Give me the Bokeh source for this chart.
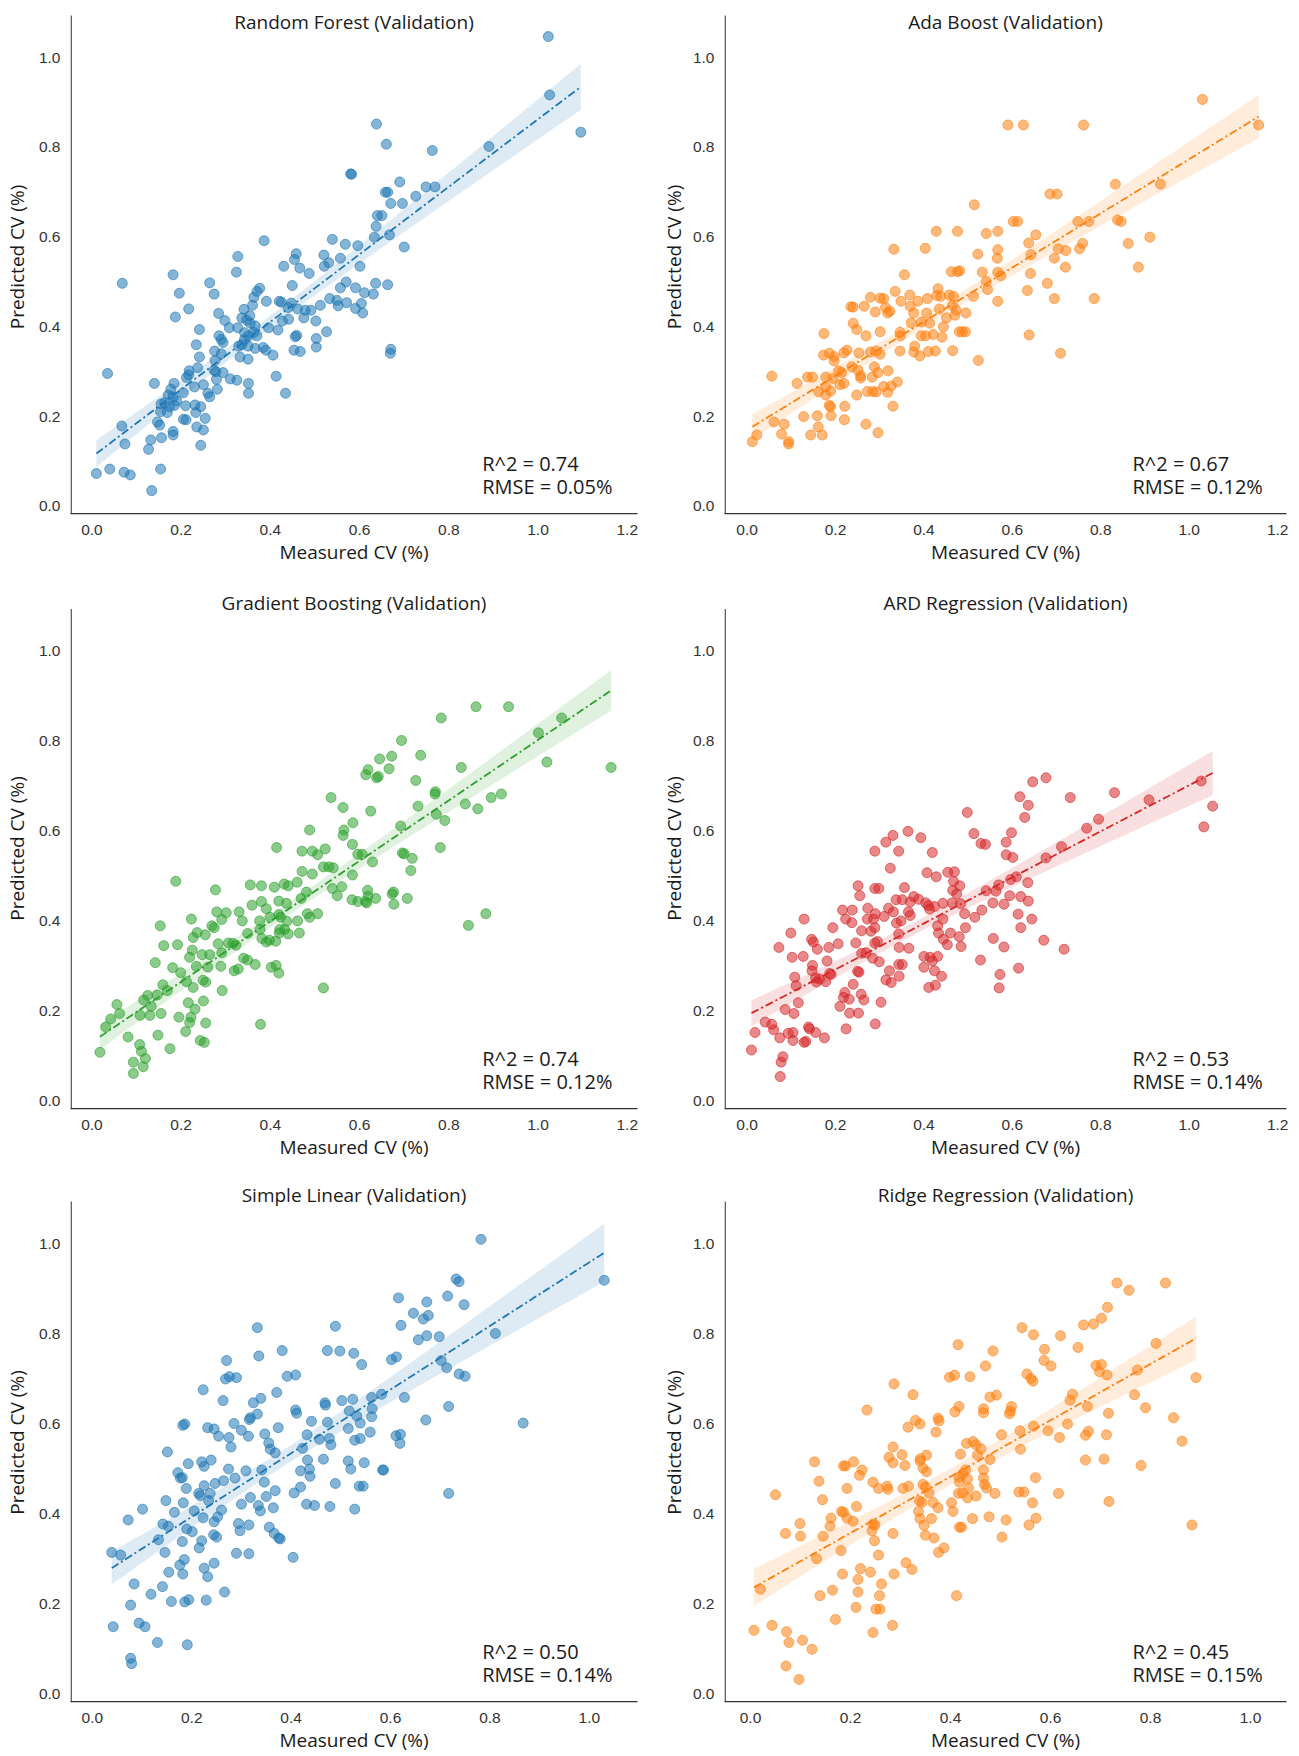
import numpy as np
from bokeh.plotting import figure
from bokeh.layouts import gridplot
from bokeh.models import Range1d, FixedTicker, PrintfTickFormatter, Label
from bokeh.embed import file_html
from bokeh.resources import INLINE

# ---------------- data ----------------
titles = ["Random Forest (Validation)", "Ada Boost (Validation)",
          "Gradient Boosting (Validation)", "ARD Regression (Validation)",
          "Simple Linear (Validation)", "Ridge Regression (Validation)"]
r2_text = ["R^2 = 0.74", "R^2 = 0.67", "R^2 = 0.74", "R^2 = 0.53", "R^2 = 0.50", "R^2 = 0.45"]
rmse_text = ["RMSE = 0.05%", "RMSE = 0.12%", "RMSE = 0.12%", "RMSE = 0.14%", "RMSE = 0.14%", "RMSE = 0.15%"]
colors = ["#1f77b4", "#ff7f0e", "#2ca02c", "#d62728", "#1f77b4", "#ff7f0e"]
x_label = "Measured CV (%)"
y_label = "Predicted CV (%)"
ticks_wide = [0.0, 0.2, 0.4, 0.6, 0.8, 1.0, 1.2]
ticks_narrow = [0.0, 0.2, 0.4, 0.6, 0.8, 1.0]
y_ticks = [0.0, 0.2, 0.4, 0.6, 0.8, 1.0]

rf_x = [1.023,1.026,1.096,0.890,0.763,0.638,0.660,0.580,0.582,0.690,
        0.749,0.769,0.726,0.658,0.663,0.670,0.696,0.640,0.650,0.637,
        0.633,0.667,0.700,0.596,0.568,0.539,0.386,0.601,0.557,0.531,
        0.520,0.521,0.458,0.454,0.430,0.466,0.487,0.327,0.324,0.449,
        0.570,0.636,0.663,0.557,0.591,0.611,0.631,0.533,0.549,0.571,
        0.552,0.604,0.591,0.607,0.512,0.491,0.478,0.461,0.447,0.420,
        0.425,0.391,0.376,0.370,0.363,0.360,0.341,0.440,0.475,0.502,
        0.441,0.427,0.396,0.417,0.526,0.459,0.456,0.503,0.503,0.453,
        0.467,0.670,0.669,0.406,0.390,0.384,0.366,0.370,0.363,0.366,
        0.355,0.347,0.354,0.336,0.327,0.308,0.298,0.284,0.342,0.351,
        0.342,0.336,0.329,0.350,0.332,0.350,0.285,0.290,0.294,0.275,
        0.290,0.276,0.264,0.274,0.182,0.196,0.068,0.217,0.187,0.241,
        0.234,0.241,0.278,0.274,0.294,0.310,0.325,0.351,0.351,0.413,
        0.434,0.279,0.281,0.260,0.264,0.250,0.237,0.218,0.217,0.212,
        0.230,0.184,0.205,0.177,0.171,0.182,0.190,0.163,0.155,0.140,
        0.174,0.185,0.210,0.231,0.244,0.233,0.254,0.205,0.211,0.169,
        0.154,0.147,0.152,0.067,0.235,0.250,0.182,0.182,0.156,0.074,
        0.132,0.127,0.244,0.035,0.010,0.040,0.072,0.086,0.154,0.134]
rf_y = [1.047,0.917,0.834,0.802,0.793,0.852,0.807,0.741,0.740,0.723,
        0.712,0.712,0.691,0.700,0.700,0.675,0.675,0.648,0.648,0.624,
        0.600,0.605,0.578,0.581,0.584,0.595,0.592,0.535,0.553,0.543,
        0.560,0.535,0.563,0.550,0.535,0.531,0.519,0.557,0.522,0.492,
        0.500,0.497,0.494,0.487,0.487,0.476,0.473,0.463,0.459,0.454,
        0.447,0.452,0.441,0.431,0.448,0.437,0.437,0.440,0.453,0.457,
        0.455,0.457,0.486,0.479,0.466,0.448,0.439,0.443,0.420,0.413,
        0.417,0.413,0.398,0.393,0.389,0.381,0.378,0.374,0.355,0.348,
        0.345,0.350,0.341,0.337,0.348,0.354,0.352,0.380,0.388,0.402,
        0.408,0.415,0.425,0.420,0.398,0.398,0.414,0.430,0.387,0.380,
        0.372,0.360,0.357,0.357,0.333,0.328,0.380,0.372,0.365,0.346,
        0.340,0.325,0.498,0.473,0.516,0.475,0.497,0.440,0.422,0.394,
        0.360,0.333,0.300,0.303,0.298,0.284,0.281,0.274,0.252,0.290,
        0.252,0.283,0.261,0.252,0.244,0.271,0.309,0.302,0.293,0.287,
        0.266,0.274,0.253,0.261,0.248,0.244,0.235,0.231,0.228,0.274,
        0.222,0.225,0.224,0.226,0.222,0.209,0.196,0.194,0.193,0.209,
        0.211,0.188,0.181,0.179,0.177,0.170,0.167,0.159,0.153,0.139,
        0.148,0.127,0.136,0.296,0.073,0.083,0.076,0.070,0.083,0.035]

ada_x = [1.030,1.157,0.590,0.625,0.761,0.833,0.935,0.514,0.685,0.701,
         0.602,0.612,0.748,0.773,0.838,0.846,0.653,0.637,0.642,0.704,
         0.721,0.695,0.759,0.752,0.862,0.911,0.885,0.720,0.641,0.679,
         0.634,0.695,0.785,0.638,0.709,0.428,0.476,0.541,0.567,0.332,
         0.403,0.522,0.566,0.567,0.356,0.462,0.476,0.481,0.532,0.567,
         0.574,0.541,0.544,0.512,0.567,0.335,0.432,0.429,0.438,0.457,
         0.467,0.368,0.348,0.386,0.408,0.279,0.301,0.309,0.235,0.240,
         0.265,0.290,0.313,0.323,0.318,0.369,0.377,0.406,0.435,0.465,
         0.473,0.495,0.451,0.470,0.240,0.248,0.371,0.394,0.413,0.444,
         0.346,0.347,0.301,0.269,0.174,0.394,0.404,0.421,0.441,0.480,
         0.487,0.494,0.523,0.465,0.379,0.377,0.391,0.410,0.426,0.346,
         0.292,0.301,0.279,0.253,0.226,0.219,0.173,0.186,0.197,0.197,
         0.237,0.251,0.288,0.319,0.296,0.283,0.257,0.207,0.214,0.194,
         0.178,0.137,0.148,0.056,0.113,0.178,0.162,0.178,0.189,0.210,
         0.219,0.257,0.340,0.309,0.326,0.272,0.284,0.292,0.318,0.248,
         0.330,0.186,0.189,0.221,0.128,0.159,0.190,0.220,0.061,0.084,
         0.161,0.269,0.078,0.144,0.170,0.296,0.022,0.012,0.094,0.094]
ada_y = [0.907,0.850,0.850,0.850,0.850,0.718,0.718,0.672,0.696,0.696,
         0.635,0.635,0.635,0.635,0.638,0.635,0.605,0.587,0.561,0.574,
         0.570,0.553,0.586,0.574,0.586,0.600,0.533,0.533,0.519,0.497,
         0.481,0.463,0.463,0.382,0.341,0.613,0.613,0.608,0.613,0.573,
         0.575,0.562,0.553,0.572,0.516,0.523,0.523,0.525,0.522,0.522,
         0.514,0.501,0.483,0.468,0.457,0.479,0.485,0.470,0.468,0.471,
         0.468,0.471,0.457,0.457,0.463,0.466,0.464,0.463,0.445,0.444,
         0.446,0.433,0.443,0.435,0.431,0.446,0.431,0.431,0.440,0.448,
         0.437,0.431,0.420,0.426,0.408,0.394,0.409,0.411,0.408,0.400,
         0.388,0.380,0.389,0.380,0.385,0.380,0.380,0.383,0.377,0.389,
         0.389,0.389,0.325,0.347,0.357,0.344,0.335,0.345,0.346,0.346,
         0.346,0.339,0.344,0.342,0.348,0.342,0.337,0.341,0.334,0.324,
         0.311,0.303,0.311,0.302,0.298,0.288,0.291,0.302,0.298,0.285,
         0.288,0.288,0.288,0.290,0.274,0.266,0.255,0.248,0.257,0.271,
         0.274,0.286,0.277,0.267,0.268,0.256,0.256,0.255,0.254,0.248,
         0.223,0.225,0.222,0.223,0.200,0.202,0.202,0.193,0.188,0.183,
         0.177,0.183,0.161,0.159,0.159,0.164,0.159,0.144,0.144,0.139]

gb_x = [1.164,0.861,0.934,0.783,1.053,1.001,1.020,0.694,0.737,0.672,
        0.645,0.666,0.828,0.619,0.614,0.638,0.642,0.726,0.770,0.769,
        0.895,0.918,0.536,0.563,0.625,0.731,0.837,0.865,0.772,0.791,
        0.692,0.585,0.488,0.565,0.563,0.584,0.414,0.471,0.494,0.523,
        0.506,0.596,0.606,0.696,0.700,0.718,0.629,0.781,0.519,0.531,
        0.541,0.471,0.494,0.715,0.584,0.460,0.355,0.380,0.409,0.431,
        0.440,0.539,0.560,0.550,0.277,0.188,0.481,0.469,0.419,0.436,
        0.380,0.359,0.391,0.583,0.596,0.618,0.613,0.619,0.636,0.616,
        0.673,0.677,0.676,0.707,0.844,0.883,0.280,0.301,0.330,0.337,
        0.291,0.223,0.376,0.399,0.419,0.423,0.437,0.461,0.483,0.488,
        0.506,0.269,0.274,0.236,0.227,0.254,0.349,0.377,0.381,0.391,
        0.398,0.421,0.432,0.420,0.440,0.465,0.412,0.153,0.161,0.192,
        0.225,0.283,0.306,0.316,0.323,0.247,0.264,0.291,0.219,0.142,
        0.234,0.260,0.289,0.181,0.199,0.319,0.328,0.340,0.349,0.366,
        0.402,0.413,0.419,0.212,0.227,0.249,0.255,0.159,0.169,0.292,
        0.519,0.146,0.125,0.116,0.133,0.130,0.108,0.155,0.216,0.231,
        0.222,0.250,0.195,0.056,0.062,0.042,0.031,0.255,0.219,0.210,
        0.148,0.081,0.243,0.252,0.378,0.175,0.107,0.111,0.018,0.120,
        0.093,0.115,0.093]
gb_y = [0.742,0.877,0.877,0.852,0.852,0.819,0.754,0.802,0.769,0.767,
        0.761,0.739,0.742,0.737,0.726,0.719,0.722,0.713,0.688,0.683,
        0.675,0.683,0.675,0.653,0.645,0.656,0.661,0.650,0.638,0.624,
        0.612,0.619,0.603,0.603,0.591,0.571,0.564,0.556,0.556,0.561,
        0.548,0.549,0.549,0.552,0.550,0.540,0.532,0.564,0.521,0.521,
        0.519,0.511,0.505,0.513,0.503,0.487,0.481,0.479,0.476,0.483,
        0.479,0.473,0.477,0.457,0.470,0.489,0.465,0.451,0.445,0.440,
        0.444,0.436,0.428,0.448,0.444,0.469,0.444,0.456,0.451,0.441,
        0.461,0.438,0.465,0.451,0.391,0.417,0.421,0.419,0.421,0.401,
        0.404,0.405,0.401,0.409,0.415,0.409,0.400,0.401,0.417,0.409,
        0.417,0.390,0.386,0.375,0.364,0.370,0.373,0.382,0.362,0.354,
        0.358,0.382,0.382,0.374,0.372,0.374,0.356,0.390,0.346,0.348,
        0.336,0.350,0.352,0.351,0.347,0.326,0.326,0.330,0.320,0.308,
        0.300,0.298,0.300,0.297,0.286,0.290,0.294,0.318,0.314,0.304,
        0.298,0.302,0.285,0.266,0.253,0.269,0.265,0.259,0.246,0.246,
        0.252,0.236,0.235,0.225,0.211,0.191,0.191,0.195,0.219,0.205,
        0.187,0.223,0.187,0.215,0.195,0.183,0.165,0.174,0.175,0.155,
        0.147,0.143,0.135,0.131,0.171,0.117,0.126,0.111,0.109,0.095,
        0.087,0.077,0.062]

ard_x = [0.676,0.646,0.617,0.636,0.628,0.731,0.831,0.909,1.027,1.053,
         1.033,0.795,0.768,0.498,0.513,0.529,0.539,0.598,0.586,0.586,
         0.601,0.711,0.676,0.330,0.364,0.314,0.393,0.289,0.343,0.419,
         0.324,0.407,0.428,0.454,0.469,0.467,0.481,0.465,0.474,0.251,
         0.255,0.289,0.298,0.356,0.377,0.388,0.369,0.337,0.351,0.404,
         0.410,0.443,0.464,0.635,0.636,0.619,0.594,0.596,0.609,0.569,
         0.563,0.541,0.556,0.581,0.492,0.515,0.531,0.494,0.557,0.581,
         0.528,0.572,0.570,0.613,0.619,0.644,0.671,0.717,0.614,0.483,
         0.413,0.424,0.443,0.431,0.433,0.460,0.444,0.453,0.480,0.484,
         0.365,0.369,0.348,0.338,0.343,0.331,0.320,0.310,0.290,0.286,
         0.289,0.280,0.273,0.272,0.238,0.216,0.223,0.237,0.259,0.246,
         0.259,0.269,0.284,0.289,0.295,0.299,0.322,0.343,0.351,0.344,
         0.366,0.344,0.314,0.326,0.400,0.414,0.431,0.419,0.400,0.424,
         0.440,0.411,0.426,0.250,0.253,0.240,0.258,0.264,0.221,0.218,
         0.210,0.231,0.232,0.252,0.303,0.290,0.224,0.206,0.194,0.185,
         0.181,0.187,0.190,0.178,0.155,0.164,0.157,0.159,0.146,0.150,
         0.148,0.147,0.129,0.099,0.102,0.127,0.108,0.111,0.116,0.106,
         0.086,0.072,0.139,0.141,0.155,0.175,0.129,0.133,0.104,0.104,
         0.093,0.056,0.060,0.041,0.018,0.074,0.010,0.081,0.077,0.075]
ard_y = [0.719,0.710,0.677,0.658,0.631,0.675,0.686,0.670,0.712,0.656,
         0.610,0.627,0.607,0.642,0.595,0.573,0.571,0.597,0.576,0.548,
         0.542,0.566,0.541,0.591,0.600,0.576,0.586,0.556,0.556,0.553,
         0.518,0.508,0.499,0.509,0.510,0.489,0.479,0.469,0.461,0.479,
         0.457,0.473,0.473,0.475,0.455,0.449,0.443,0.448,0.448,0.441,
         0.435,0.440,0.441,0.486,0.445,0.455,0.457,0.493,0.499,0.481,
         0.467,0.468,0.441,0.438,0.417,0.409,0.425,0.386,0.362,0.343,
         0.314,0.282,0.252,0.416,0.386,0.405,0.358,0.338,0.296,0.439,
         0.427,0.433,0.405,0.390,0.374,0.374,0.360,0.348,0.366,0.344,
         0.421,0.413,0.401,0.396,0.372,0.421,0.429,0.411,0.417,0.405,
         0.386,0.378,0.429,0.405,0.425,0.425,0.405,0.397,0.379,0.352,
         0.329,0.330,0.318,0.352,0.355,0.310,0.290,0.304,0.304,0.342,
         0.340,0.278,0.270,0.264,0.322,0.320,0.322,0.312,0.298,0.290,
         0.278,0.253,0.258,0.289,0.287,0.260,0.238,0.225,0.242,0.231,
         0.211,0.227,0.196,0.196,0.220,0.172,0.161,0.350,0.386,0.342,
         0.312,0.284,0.282,0.266,0.274,0.272,0.265,0.338,0.360,0.354,
         0.302,0.290,0.405,0.374,0.320,0.322,0.276,0.257,0.219,0.195,
         0.204,0.342,0.165,0.161,0.153,0.141,0.131,0.133,0.153,0.135,
         0.151,0.171,0.159,0.176,0.153,0.141,0.114,0.099,0.087,0.055]

sl_x = [0.782,1.030,0.732,0.738,0.616,0.715,0.673,0.748,0.646,0.676,
        0.666,0.621,0.332,0.489,0.811,0.673,0.698,0.656,0.382,0.473,
        0.498,0.526,0.335,0.602,0.612,0.702,0.270,0.542,0.713,0.738,
        0.750,0.268,0.276,0.290,0.392,0.409,0.223,0.371,0.628,0.582,
        0.562,0.263,0.324,0.339,0.468,0.469,0.502,0.524,0.332,0.318,
        0.316,0.409,0.411,0.517,0.532,0.539,0.563,0.562,0.717,0.671,
        0.867,0.182,0.186,0.285,0.232,0.245,0.441,0.473,0.254,0.275,
        0.300,0.314,0.347,0.374,0.515,0.539,0.559,0.611,0.620,0.619,
        0.528,0.432,0.457,0.477,0.480,0.279,0.355,0.358,0.368,0.423,
        0.151,0.433,0.465,0.515,0.547,0.520,0.584,0.586,0.193,0.220,
        0.239,0.225,0.274,0.309,0.341,0.419,0.437,0.438,0.172,0.177,
        0.181,0.287,0.264,0.247,0.346,0.489,0.537,0.545,0.189,0.225,
        0.214,0.217,0.237,0.419,0.368,0.406,0.350,0.717,0.148,0.183,
        0.234,0.318,0.431,0.447,0.478,0.528,0.300,0.334,0.338,0.364,
        0.101,0.165,0.205,0.260,0.252,0.223,0.072,0.142,0.153,0.245,
        0.294,0.315,0.356,0.190,0.201,0.297,0.366,0.244,0.250,0.378,
        0.375,0.133,0.181,0.220,0.215,0.039,0.057,0.146,0.290,0.315,
        0.404,0.185,0.176,0.245,0.225,0.154,0.182,0.232,0.084,0.141,
        0.118,0.266,0.159,0.186,0.194,0.229,0.077,0.094,0.106,0.042,
        0.131,0.191,0.077,0.079]
sl_y = [1.010,0.919,0.922,0.916,0.880,0.884,0.871,0.865,0.846,0.841,
        0.833,0.819,0.814,0.817,0.801,0.796,0.794,0.787,0.763,0.763,
        0.762,0.757,0.751,0.743,0.749,0.741,0.741,0.732,0.725,0.711,
        0.706,0.700,0.705,0.703,0.706,0.709,0.676,0.670,0.659,0.666,
        0.659,0.652,0.647,0.657,0.647,0.642,0.652,0.655,0.622,0.614,
        0.610,0.631,0.624,0.629,0.618,0.602,0.634,0.616,0.639,0.609,
        0.602,0.597,0.600,0.601,0.592,0.589,0.606,0.604,0.573,0.570,
        0.586,0.573,0.578,0.592,0.590,0.568,0.582,0.574,0.577,0.557,
        0.564,0.576,0.566,0.568,0.554,0.549,0.558,0.544,0.536,0.546,
        0.538,0.520,0.522,0.518,0.514,0.500,0.498,0.498,0.512,0.516,
        0.520,0.506,0.500,0.496,0.498,0.496,0.500,0.484,0.492,0.480,
        0.481,0.480,0.474,0.468,0.471,0.468,0.462,0.462,0.457,0.463,
        0.446,0.441,0.446,0.460,0.452,0.447,0.439,0.446,0.430,0.425,
        0.430,0.437,0.422,0.419,0.417,0.411,0.422,0.419,0.407,0.414,
        0.411,0.404,0.407,0.409,0.394,0.392,0.387,0.378,0.373,0.383,
        0.379,0.376,0.371,0.367,0.361,0.363,0.357,0.354,0.349,0.345,
        0.347,0.343,0.339,0.341,0.325,0.315,0.309,0.315,0.313,0.312,
        0.304,0.299,0.287,0.291,0.280,0.271,0.267,0.261,0.245,0.239,
        0.222,0.227,0.206,0.205,0.210,0.209,0.198,0.158,0.150,0.150,
        0.115,0.110,0.080,0.068]

rd_x = [0.733,0.830,0.757,0.714,0.702,0.666,0.686,0.543,0.566,0.620,
        0.811,0.415,0.485,0.588,0.655,0.587,0.601,0.470,0.691,0.702,
        0.698,0.713,0.774,0.891,0.553,0.561,0.565,0.398,0.408,0.439,
        0.287,0.325,0.479,0.492,0.644,0.639,0.768,0.417,0.409,0.466,
        0.466,0.522,0.520,0.518,0.674,0.790,0.716,0.233,0.846,0.375,
        0.377,0.330,0.339,0.315,0.371,0.634,0.566,0.539,0.595,0.676,
        0.670,0.618,0.502,0.712,0.863,0.285,0.432,0.445,0.451,0.461,
        0.540,0.303,0.277,0.285,0.352,0.340,0.339,0.454,0.479,0.420,
        0.670,0.707,0.128,0.206,0.186,0.190,0.223,0.309,0.345,0.352,
        0.430,0.466,0.425,0.417,0.466,0.781,0.218,0.137,0.245,0.273,
        0.275,0.316,0.305,0.345,0.350,0.357,0.418,0.434,0.436,0.468,
        0.472,0.570,0.193,0.256,0.050,0.144,0.416,0.424,0.434,0.451,
        0.489,0.537,0.547,0.616,0.338,0.343,0.365,0.402,0.564,0.717,
        0.212,0.375,0.405,0.182,0.186,0.161,0.193,0.205,0.336,0.339,
        0.362,0.444,0.477,0.511,0.571,0.099,0.159,0.245,0.249,0.347,
        0.418,0.422,0.557,0.883,0.070,0.100,0.145,0.243,0.285,0.350,
        0.367,0.503,0.248,0.181,0.387,0.376,0.256,0.132,0.311,0.323,
        0.220,0.240,0.184,0.287,0.215,0.262,0.020,0.215,0.139,0.164,
        0.258,0.412,0.211,0.251,0.259,0.170,0.284,0.007,0.043,0.072,
        0.245,0.077,0.104,0.123,0.071,0.097]
rd_y = [0.913,0.913,0.897,0.859,0.835,0.820,0.822,0.814,0.798,0.796,
        0.779,0.776,0.762,0.766,0.770,0.741,0.729,0.729,0.730,0.732,
        0.716,0.709,0.720,0.703,0.711,0.701,0.695,0.704,0.708,0.705,
        0.689,0.665,0.660,0.664,0.666,0.653,0.665,0.639,0.627,0.634,
        0.625,0.639,0.629,0.623,0.639,0.636,0.624,0.631,0.614,0.613,
        0.607,0.608,0.600,0.593,0.582,0.600,0.595,0.585,0.585,0.584,
        0.575,0.570,0.576,0.576,0.562,0.549,0.557,0.561,0.554,0.545,
        0.544,0.532,0.526,0.514,0.531,0.523,0.518,0.531,0.521,0.533,
        0.520,0.522,0.516,0.516,0.507,0.507,0.498,0.508,0.502,0.494,
        0.498,0.498,0.490,0.482,0.480,0.508,0.486,0.473,0.471,0.462,
        0.455,0.462,0.457,0.466,0.460,0.447,0.471,0.478,0.458,0.466,
        0.458,0.481,0.457,0.457,0.443,0.432,0.446,0.447,0.436,0.440,
        0.446,0.449,0.449,0.446,0.429,0.426,0.426,0.425,0.425,0.428,
        0.417,0.414,0.406,0.406,0.404,0.391,0.391,0.384,0.406,0.390,
        0.390,0.390,0.394,0.387,0.391,0.379,0.373,0.378,0.376,0.375,
        0.371,0.371,0.376,0.376,0.357,0.351,0.351,0.363,0.357,0.353,
        0.347,0.349,0.341,0.319,0.325,0.315,0.309,0.301,0.292,0.277,
        0.279,0.271,0.267,0.267,0.255,0.245,0.233,0.227,0.219,0.231,
        0.219,0.219,0.193,0.189,0.189,0.166,0.153,0.142,0.153,0.139,
        0.137,0.115,0.120,0.100,0.063,0.033]

series_x = [rf_x, ada_x, gb_x, ard_x, sl_x, rd_x]
series_y = [rf_y, ada_y, gb_y, ard_y, sl_y, rd_y]

# ---------------- layout / style ----------------
TXT = "#1a1a1a"
TICK = "#333333"
SPINE = "#333333"
LABEL_FONT = "Open Sans"
TICK_FONT = "Liberation Sans"

FRAME_W = 568
col_w = [657, 633]
col_bl = [69, 61]
col_br = [20, 4]
col_ylab_standoff = [6, 3]
row_h = [588, 595, 573]        # canvas heights
row_frame_h = [513, 520, 518]  # frame (incl. title strip) heights
row_top_lvl = [15, 20.6, 18]   # px from frame top down to the visible axes top
title_lift = [-6.0, 6.5, 6.5]  # title baseline offset above the visible axes top (px)
Y0 = -0.016
Y_TOP = 1.094                  # visible axes top (data)
# x ranges per panel, so that the tick positions match the reference
X_RANGES = [(-0.048, 1.223), (-0.051, 1.220),
            (-0.048, 1.223), (-0.051, 1.220),
            (-0.044, 1.097), (-0.052, 1.072)]


def make_panel(i):
    r, c = divmod(i, 2)
    x0, x1 = X_RANGES[i]
    fh = row_frame_h[r]
    yscale = (fh - row_top_lvl[r]) / (Y_TOP - Y0)
    y_end = Y0 + fh / yscale
    xscale = FRAME_W / (x1 - x0)
    p = figure(width=col_w[c], height=row_h[r], title=None,
               x_range=Range1d(x0, x1), y_range=Range1d(Y0, y_end),
               output_backend="svg", toolbar_location=None,
               min_border_left=col_bl[c], min_border_right=col_br[c],
               min_border_top=0, min_border_bottom=row_h[r] - fh)
    p.grid.visible = False
    p.outline_line_color = None
    p.background_fill_color = "white"
    p.border_fill_color = "white"

    xs = np.asarray(series_x[i], dtype=float)
    ys = np.asarray(series_y[i], dtype=float)
    n = min(len(xs), len(ys))
    xs, ys = xs[:n], ys[:n]
    col = colors[i]

    p.scatter(xs, ys, size=10, fill_color=col, fill_alpha=0.55,
              line_color=col, line_alpha=0.6, line_width=1)

    # least squares fit with 95% confidence band
    b, a = np.polyfit(xs, ys, 1)
    gx = np.linspace(xs.min(), xs.max(), 120)
    fit = a + b * gx
    res = ys - (a + b * xs)
    s = np.sqrt((res @ res) / (n - 2))
    sxx = ((xs - xs.mean()) ** 2).sum()
    se = s * np.sqrt(1.0 / n + (gx - xs.mean()) ** 2 / sxx)
    p.varea(x=gx, y1=fit - 1.97 * se, y2=fit + 1.97 * se,
            fill_color=col, fill_alpha=0.15)
    p.line(gx, fit, line_color=col, line_width=1.8, line_dash="8 3 2 3")

    # left spine only up to the visible axes top
    sx = x0 + 0.65 / xscale
    p.line([sx, sx], [Y0, Y_TOP], line_color=SPINE, line_width=1.25)

    ticks = ticks_wide if r < 2 else ticks_narrow
    for ax, tk in ((p.xaxis, ticks), (p.yaxis, y_ticks)):
        ax.ticker = FixedTicker(ticks=tk)
        ax.formatter = PrintfTickFormatter(format="%.1f")
        ax.major_tick_line_color = None
        ax.minor_tick_line_color = None
        ax.major_tick_out = 0
        ax.major_tick_in = 0
        ax.minor_tick_out = 0
        ax.minor_tick_in = 0
        ax.major_label_text_font = TICK_FONT
        ax.major_label_text_font_size = "15.5px"
        ax.major_label_text_color = TICK
        ax.axis_label_text_font = LABEL_FONT
        ax.axis_label_text_font_size = "19px"
        ax.axis_label_text_font_style = "normal"
        ax.axis_label_text_color = TXT
    p.xaxis.axis_line_color = SPINE
    p.xaxis.axis_line_width = 1.25
    p.yaxis.axis_line_color = None
    p.xaxis.axis_label = x_label
    p.yaxis.axis_label = y_label
    p.xaxis.major_label_standoff = 11
    p.xaxis.axis_label_standoff = 1
    p.yaxis.major_label_standoff = 10
    p.yaxis.axis_label_standoff = col_ylab_standoff[c]

    # title centred above the visible axes
    p.add_layout(Label(x=(x0 + x1) / 2, y=Y_TOP + title_lift[r] / yscale,
                       x_units="data", y_units="data",
                       text=titles[i], text_align="center", text_baseline="alphabetic",
                       text_font=LABEL_FONT, text_font_size="19px",
                       text_color=TXT))
    # statistics text in the lower right
    tx = x0 + 0.726 * (x1 - x0)
    for txt, fy in ((r2_text[i], 50.0), (rmse_text[i], 27.5)):
        ty = Y0 + fy / yscale
        p.add_layout(Label(x=tx, y=ty, x_units="data", y_units="data",
                           text=txt, text_align="left", text_baseline="middle",
                           text_font=LABEL_FONT, text_font_size="20px",
                           text_color=TXT))
    return p


plots = [make_panel(i) for i in range(6)]
grid = gridplot([[plots[0], plots[1]], [plots[2], plots[3]], [plots[4], plots[5]]],
                toolbar_location=None)

open("out.html", "w").write(file_html(grid, INLINE))
